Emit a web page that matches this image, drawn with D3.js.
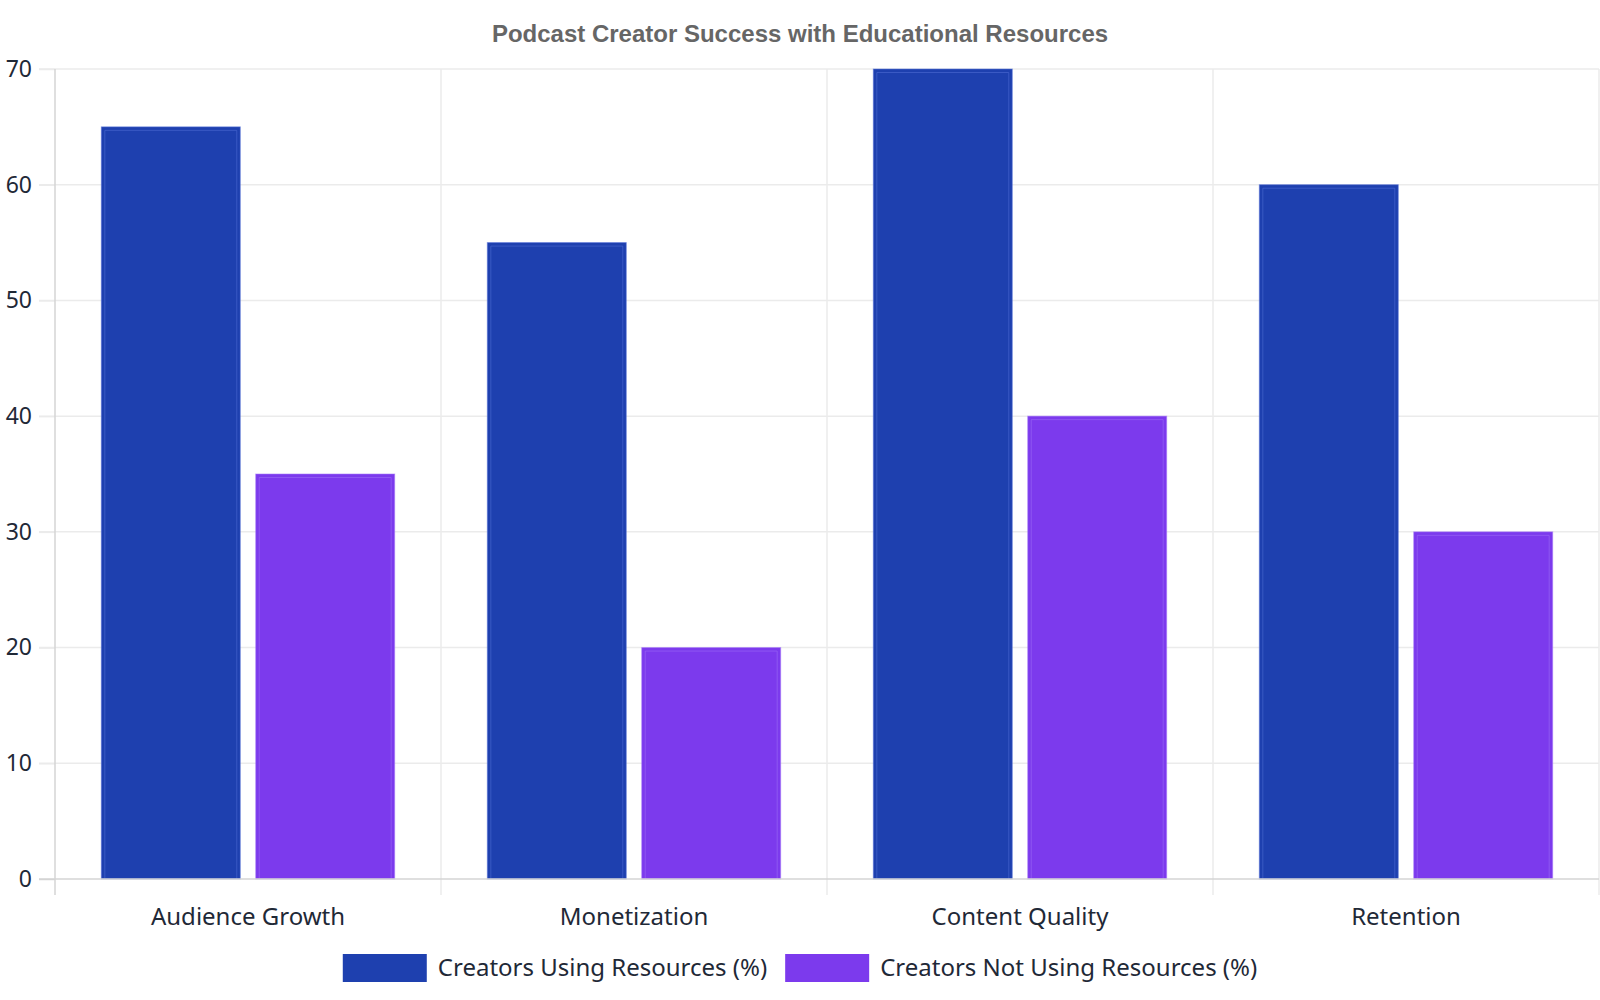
<!DOCTYPE html>
<html>
<head>
<meta charset="utf-8">
<script src="https://cdn.jsdelivr.net/npm/d3@7"></script>
<style>
  html, body { margin: 0; padding: 0; background: #fff; }
  svg { display: block; }
</style>
</head>
<body>
<svg id="chart" width="1600" height="1000"></svg>
<script>
// chart data
const categories = ['Audience Growth', 'Monetization', 'Content Quality', 'Retention'];
const seriesNames = ['Creators Using Resources (%)', 'Creators Not Using Resources (%)'];
const usingValues = [65, 55, 70, 60];
const notUsingValues = [35, 20, 40, 30];
const yTicks = [0, 10, 20, 30, 40, 50, 60, 70];
const seriesColors = ['#1e40af', '#7c3aed'];
const edgeColors = ['#5571d9', '#a274f7'];

const width = 1600, height = 1000;
const margin = { top: 69, right: 1, bottom: 121, left: 55 };

const svg = d3.select('#chart');
const font = "'Noto Sans', 'Open Sans', sans-serif";

// scales
const x0 = d3.scaleBand().domain(categories).range([margin.left, width - margin.right]).padding(0);
const bw = x0.bandwidth();
const x1 = d3.scaleBand().domain(seriesNames)
  .range([bw * 0.1, bw * 0.9]).paddingInner(0.1).paddingOuter(0.05);
const y = d3.scaleLinear().domain([0, 70]).range([height - margin.bottom, margin.top]);

// title
svg.append('text')
  .attr('x', 800).attr('y', 42)
  .attr('text-anchor', 'middle')
  .style('font-family', "'Liberation Sans', Arial, sans-serif")
  .style('font-weight', 'bold')
  .style('font-size', '24px')
  .style('fill', '#666')
  .text('Podcast Creator Success with Educational Resources');

// horizontal grid
svg.append('g')
  .selectAll('line')
  .data(yTicks.slice(1))
  .enter().append('line')
  .attr('x1', margin.left - 16).attr('x2', width - margin.right)
  .attr('y1', d => y(d)).attr('y2', d => y(d))
  .attr('stroke', '#ebebeb').attr('stroke-width', 1.5);

// vertical grid at category boundaries
const bounds = categories.map(c => x0(c)).concat([x0(categories[categories.length - 1]) + bw]);
svg.append('g')
  .selectAll('line')
  .data(bounds.slice(1))
  .enter().append('line')
  .attr('x1', d => d).attr('x2', d => d)
  .attr('y1', margin.top).attr('y2', y(0) + 16)
  .attr('stroke', '#ebebeb').attr('stroke-width', 1.5);

// y axis
const yAxis = d3.axisLeft(y).tickValues(yTicks).tickSize(16).tickPadding(7);
const gy = svg.append('g').attr('transform', `translate(${margin.left},0)`).call(yAxis);
gy.select('.domain').remove();
gy.selectAll('.tick line').attr('stroke', '#ebebeb').attr('stroke-width', 1.5);
gy.selectAll('.tick text')
  .style('font-family', font).style('font-size', '23px').style('fill', '#1f2937');
gy.selectAll('.tick').filter(d => d === 0).select('line').attr('stroke', '#d4d4d4');

// left axis line
svg.append('line')
  .attr('x1', margin.left).attr('x2', margin.left)
  .attr('y1', margin.top).attr('y2', y(0) + 16)
  .attr('stroke', '#d4d4d4').attr('stroke-width', 1.5);

// bars
const rows = categories.map((c, i) => ({ cat: c, vals: [usingValues[i], notUsingValues[i]] }));
const groups = svg.append('g').selectAll('g')
  .data(rows)
  .enter().append('g')
  .attr('transform', d => `translate(${x0(d.cat)},0)`);

const bars = groups.selectAll('g.bar')
  .data(d => d.vals.map((v, k) => ({ name: seriesNames[k], k: k, v: v })))
  .enter().append('g').attr('class', 'bar');

bars.append('rect')
  .attr('x', d => x1(d.name))
  .attr('y', d => y(d.v))
  .attr('width', x1.bandwidth())
  .attr('height', d => y(0) - y(d.v))
  .attr('fill', d => seriesColors[d.k])
  .attr('stroke', d => edgeColors[d.k])
  .attr('stroke-opacity', 0.55)
  .attr('stroke-width', 1);

// inner edge line, open at the bottom
bars.append('path')
  .attr('d', d => {
    const l = x1(d.name) + 3.5, r = x1(d.name) + x1.bandwidth() - 3.5;
    const t = y(d.v) + 3.5, b = y(0);
    return `M${l},${b}V${t}H${r}V${b}`;
  })
  .attr('fill', 'none')
  .attr('stroke', d => edgeColors[d.k])
  .attr('stroke-opacity', 0.5)
  .attr('stroke-width', 1);

// bottom axis line
svg.append('line')
  .attr('x1', margin.left - 16).attr('x2', width - margin.right)
  .attr('y1', y(0)).attr('y2', y(0))
  .attr('stroke', '#d4d4d4').attr('stroke-width', 1.5);

// category labels
svg.append('g').selectAll('text')
  .data(categories)
  .enter().append('text')
  .attr('x', d => x0(d) + bw / 2)
  .attr('y', y(0) + 46)
  .attr('text-anchor', 'middle')
  .style('font-family', font).style('font-size', '24px').style('fill', '#1f2937')
  .text(d => d);

// legend
const legend = svg.append('g');
let lx = 0;
seriesNames.forEach((name, k) => {
  const g = legend.append('g');
  g.append('rect').attr('x', 0).attr('y', -14).attr('width', 84).attr('height', 28)
    .attr('fill', seriesColors[k]);
  const t = g.append('text').attr('x', 95).attr('y', 0).attr('dy', '0.35em')
    .style('font-family', font).style('font-size', '24px').style('fill', '#1f2937')
    .text(name);
  const w = 95 + t.node().getComputedTextLength();
  g.attr('transform', `translate(${lx},0)`);
  lx += w + 18;
});
const totalW = lx - 18;
legend.attr('transform', `translate(${800 - totalW / 2},968)`);
</script>
</body>
</html>
